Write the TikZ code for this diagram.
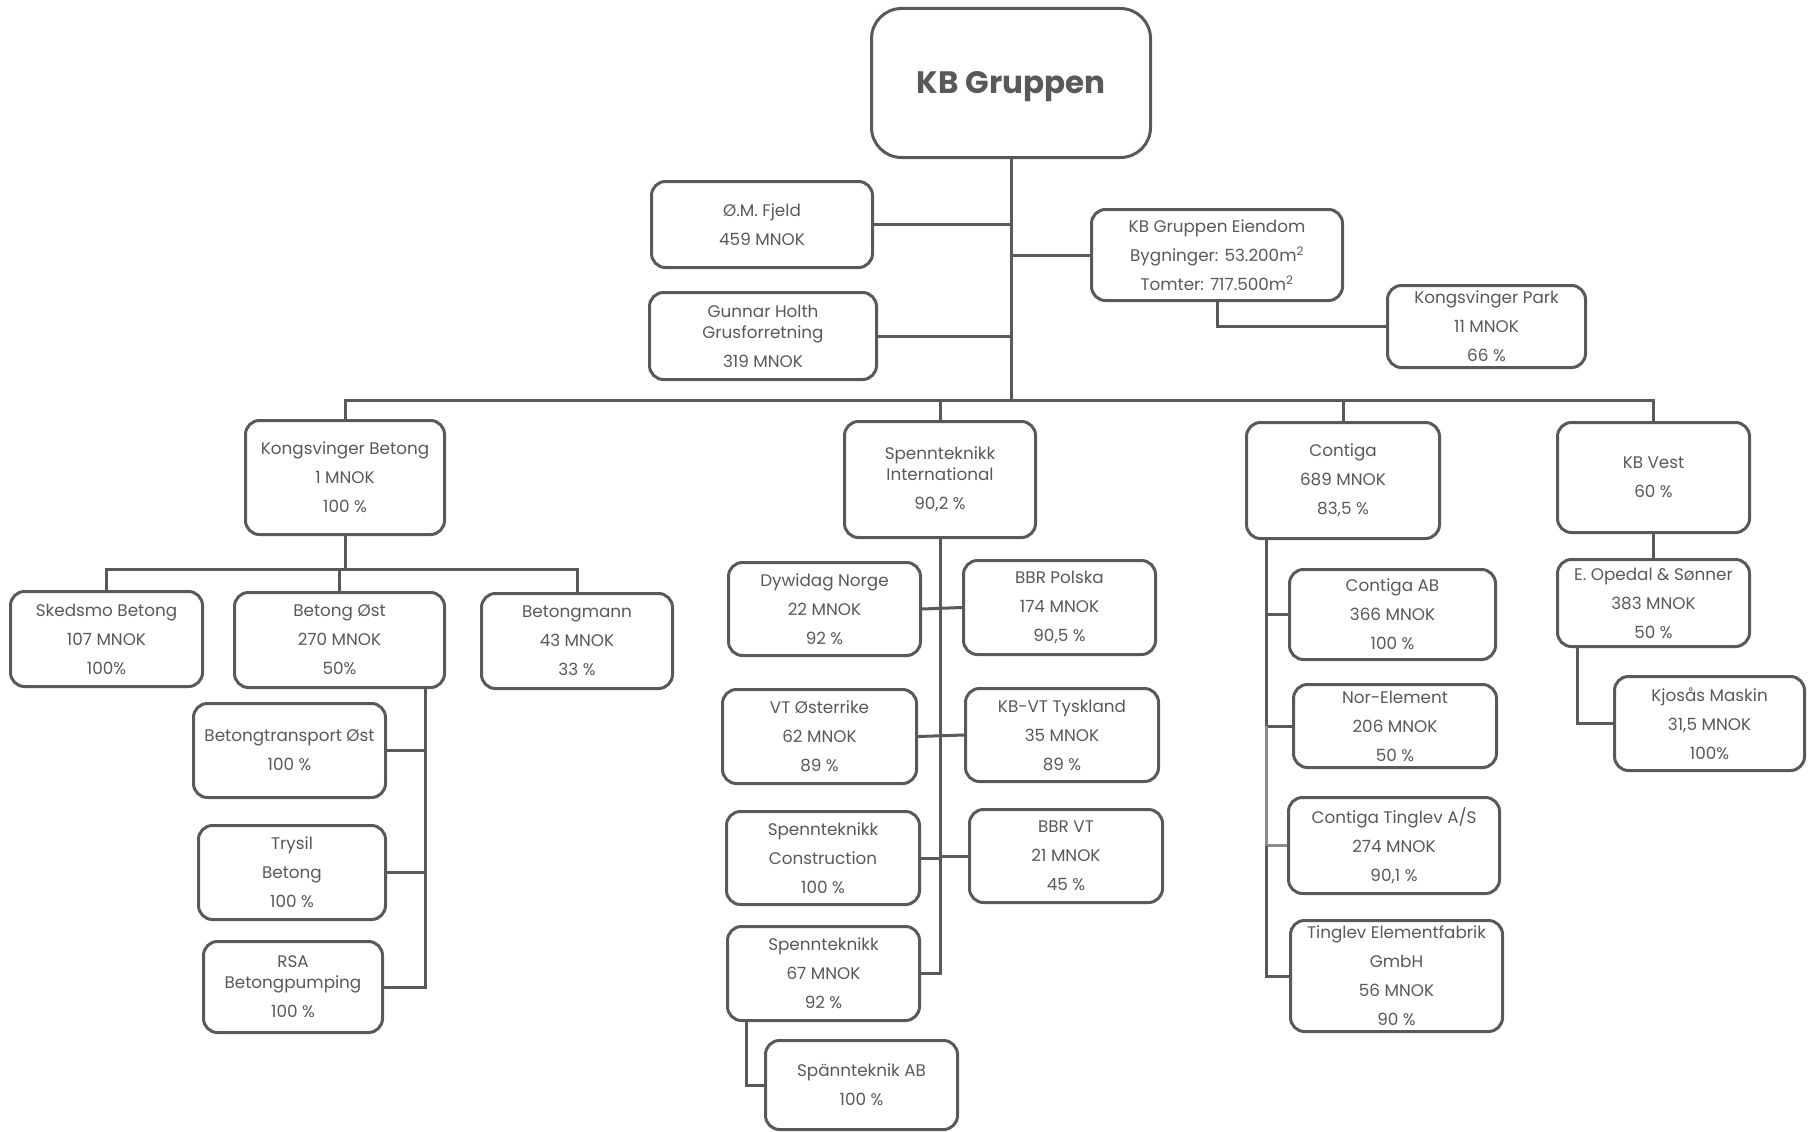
\documentclass[tikz,border=0pt]{standalone}
\usepackage{fontspec}
\setmainfont{Poppins}
\definecolor{ink}{HTML}{595959}
\definecolor{lightink}{HTML}{8C8C8C}
\tikzset{
  box/.style={draw=ink, line width=3pt, rounded corners=14pt, fill=white, align=center,
    text=ink, inner sep=1pt, font=\fontsize{16.8}{29}\selectfont},
  link/.style={draw=ink, line width=3pt},
  lightlink/.style={draw=lightink, line width=3pt},
}
\begin{document}
\begin{tikzpicture}[x=1pt,y=-1pt]
\useasboundingbox (0,0) rectangle (1810,1132);
% top level
\node[box, rounded corners=30pt, minimum width=279, minimum height=149,
  font=\fontsize{31}{36}\selectfont\bfseries] (root) at (1011,83) {\raisebox{-4pt}[\height][\depth]{KB Gruppen}};
\node[box, minimum width=221, minimum height=86] (omf) at (762,224.5) {Ø.M. Fjeld\\459 MNOK};
\node[box, minimum width=227, minimum height=87] (gh) at (763,336) {Gunnar Holth\\[-8pt]Grusforretning\\319 MNOK};
\node[box, minimum width=251, minimum height=91] (kbe) at (1217,255) {KB Gruppen Eiendom\\Bygninger: 53.200m\textsuperscript{2}\\Tomter: 717.500m\textsuperscript{2}};
\node[box, minimum width=198, minimum height=82] (kp) at (1486.5,326.5) {Kongsvinger Park\\11 MNOK\\66 \%};
% second level
\node[box, minimum width=199, minimum height=114] (kvb) at (345,477.5) {Kongsvinger Betong\\1 MNOK\\100 \%};
\node[box, minimum width=191, minimum height=116] (si) at (940,479.5) {Spennteknikk\\[-8pt]International\\90,2 \%};
\node[box, minimum width=193, minimum height=116] (con) at (1343,480.5) {Contiga\\689 MNOK\\83,5 \%};
\node[box, minimum width=192, minimum height=110] (kbv) at (1653.5,477.5) {KB Vest\\60 \%};
% Kongsvinger Betong group
\node[box, minimum width=192, minimum height=95] (skb) at (106.5,639) {Skedsmo Betong\\107 MNOK\\100\%};
\node[box, minimum width=210, minimum height=95] (bo) at (339.5,640) {Betong Øst\\270 MNOK\\50\%};
\node[box, minimum width=191, minimum height=95] (bm) at (577,641) {Betongmann\\43 MNOK\\33 \%};
\node[box, minimum width=192, minimum height=94] (bto) at (289.5,750.5) {Betongtransport Øst\\100 \%};
\node[box, minimum width=187, minimum height=94] (tb) at (292,872.5) {Trysil\\Betong\\100 \%};
\node[box, minimum width=179, minimum height=91] (rsa) at (293,987) {RSA\\[-8pt]Betongpumping\\100 \%};
% Spennteknikk group
\node[box, minimum width=192, minimum height=93] (dn) at (824.5,609) {Dywidag Norge\\22 MNOK\\92 \%};
\node[box, minimum width=192, minimum height=94] (bbrp) at (1059.5,607.5) {BBR Polska\\174 MNOK\\90,5 \%};
\node[box, minimum width=194, minimum height=94] (vto) at (819.5,736.5) {VT Østerrike\\62 MNOK\\89 \%};
\node[box, minimum width=193, minimum height=93] (kbvt) at (1062,735) {KB-VT Tyskland\\35 MNOK\\89 \%};
\node[box, minimum width=193, minimum height=93] (sc) at (823,858) {Spennteknikk\\Construction\\100 \%};
\node[box, minimum width=193, minimum height=93] (bbrvt) at (1066,856) {BBR VT\\21 MNOK\\45 \%};
\node[box, minimum width=192, minimum height=94] (sp) at (823.5,973.5) {Spennteknikk\\67 MNOK\\92 \%};
\node[box, minimum width=192, minimum height=89] (sab) at (861.5,1085) {Spännteknik AB\\100 \%};
% Contiga group
\node[box, minimum width=206, minimum height=90] (cab) at (1392.5,614.5) {Contiga AB\\366 MNOK\\100 \%};
\node[box, minimum width=203, minimum height=83] (ne) at (1395,726) {Nor-Element\\206 MNOK\\50 \%};
\node[box, minimum width=211, minimum height=96] (cta) at (1394,845.5) {Contiga Tinglev A/S\\274 MNOK\\90,1 \%};
\node[box, minimum width=212, minimum height=111] (teg) at (1396.5,976) {Tinglev Elementfabrik\\GmbH\\56 MNOK\\90 \%};
% KB Vest group
\node[box, minimum width=192, minimum height=87] (eos) at (1653.5,603) {E. Opedal \& Sønner\\383 MNOK\\50 \%};
\node[box, minimum width=190, minimum height=94] (km) at (1709.5,723.5) {Kjosås Maskin\\31,5 MNOK\\100\%};
% helper coordinates
\coordinate (bus) at (1011,400);
\coordinate (kvbus) at (345,569);
\coordinate (box) at (425,0);
\coordinate (conx) at (1266,0);
\coordinate (spx) at (746,0);
\coordinate (eosx) at (1577,0);
% connectors
\draw[link] (root.south) -- (bus);
\draw[link] (omf.east) -- (omf.east -| root.south);
\draw[link] (gh.east) -- (gh.east -| root.south);
\draw[link] (kbe.west) -- (kbe.west -| root.south);
\draw[link] (kbe.south) |- (kp.west);
\draw[link] (kvb.north) |- (bus) -| (kbv.north);
\draw[link] (si.north) -- (si.north |- bus);
\draw[link] (con.north) -- (con.north |- bus);
% Kongsvinger Betong
\draw[link] (kvb.south) -- (kvbus);
\draw[link] (skb.north) |- (kvbus) -| (bm.north);
\draw[link] (bo.north) -- (bo.north |- kvbus);
\draw[link] (bo.south -| box) |- (rsa.east);
\draw[link] (bto.east) -- (bto.east -| box);
\draw[link] (tb.east) -- (tb.east -| box);
% Spennteknikk
\draw[link] (si.south) |- (sp.east);
\draw[link] (dn.east) -- (bbrp.west);
\draw[link] (vto.east) -- (kbvt.west);
\draw[link] (sc.east) -- (sc.east -| si.south);
\draw[link] (bbrvt.west) -- (bbrvt.west -| si.south);
\draw[link] (sp.south -| spx) |- (sab.west);
% Contiga
\draw[link] (con.south -| conx) -- (ne.west -| conx);
\draw[link] (cab.west) -- (cab.west -| conx);
\draw[link] (ne.west) -- (ne.west -| conx);
\draw[lightlink] (ne.west -| conx) -- (cta.west -| conx) -- (cta.west);
\draw[link] (cta.west -| conx) |- (teg.west);
% KB Vest
\draw[link] (kbv.south) -- (eos.north);
\draw[link] (eos.south -| eosx) |- (km.west);
\end{tikzpicture}
\end{document}
